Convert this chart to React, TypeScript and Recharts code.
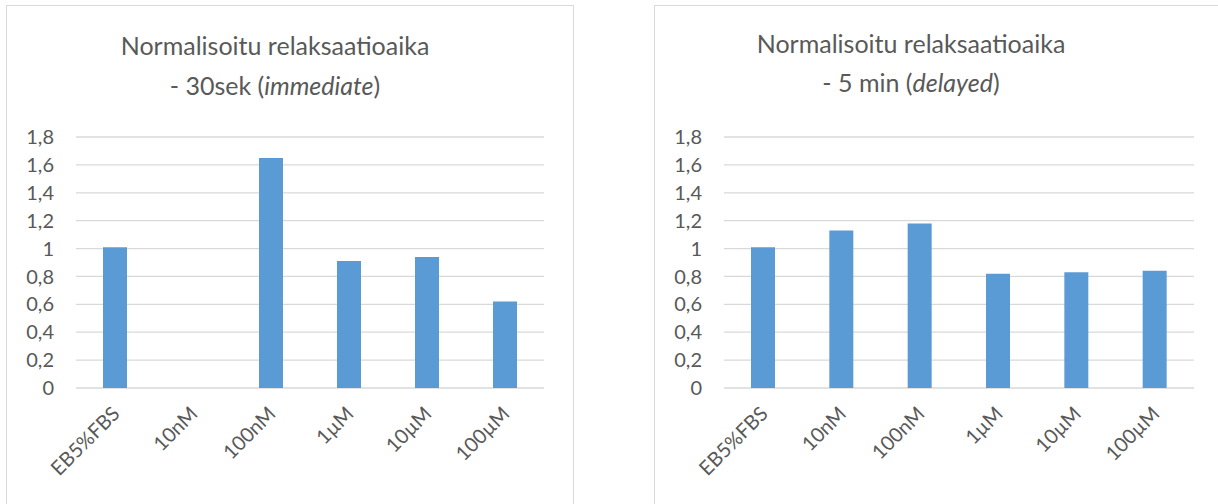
import { BarChart, Bar, XAxis, YAxis, CartesianGrid } from "recharts"

const categories = ["EB5%FBS", "10nM", "100nM", "1µM", "10µM", "100µM"]
const immediateValues = [1.01, null, 1.65, 0.91, 0.94, 0.62]
const delayedValues = [1.01, 1.13, 1.18, 0.82, 0.83, 0.84]
const yTicks = [0, 0.2, 0.4, 0.6, 0.8, 1, 1.2, 1.4, 1.6, 1.8]

const FONT = "Lato, 'Open Sans', sans-serif"
const TEXT = "#595959"
const GRID = "#d9d9d9"
const BAR = "#5b9bd5"

const fmt = (v: number) => String(v).replace(".", ",")

function AngledTick({ x, y, payload }: any) {
  return (
    <g transform={`translate(${x},${y})`}>
      <text
        x={6}
        y={19}
        textAnchor="end"
        transform="rotate(-45 6 19)"
        fill={TEXT}
        fontFamily={FONT}
        fontSize={20}
      >
        {payload.value}
      </text>
    </g>
  )
}

interface PanelProps {
  values: (number | null)[]
  left: number
  width: number
  yAxisWidth: number
  rightMargin: number
}

function Panel({ values, left, width, yAxisWidth, rightMargin }: PanelProps) {
  const data = categories.map((c, i) => ({ name: c, value: values[i] }))
  return (
    <div style={{ position: "absolute", left, top: 0 }}>
      <BarChart
        width={width}
        height={504}
        data={data}
        margin={{ top: 137, right: rightMargin, bottom: 16, left: 0 }}
        barSize={24}
      >
        <CartesianGrid vertical={false} stroke={GRID} strokeWidth={1.3} />
        <XAxis
          dataKey="name"
          axisLine={false}
          tickLine={false}
          height={100}
          interval={0}
          tick={<AngledTick />}
        />
        <YAxis
          domain={[0, 1.8]}
          ticks={yTicks}
          width={yAxisWidth}
          axisLine={false}
          tickLine={false}
          tickSize={0}
          tickMargin={22}
          tickFormatter={fmt}
          tick={{ fill: TEXT, fontFamily: FONT, fontSize: 20 }}
          interval={0}
        />
        <Bar dataKey="value" fill={BAR} isAnimationActive={false} />
      </BarChart>
    </div>
  )
}

function Title({ cx, y1, y2, line2, italic }: { cx: number; y1: number; y2: number; line2: string; italic: string }) {
  return (
    <svg width={1218} height={120} style={{ position: "absolute", left: 0, top: 0 }}>
      <text x={cx} y={y1} textAnchor="middle" fill={TEXT} fontFamily={FONT} fontSize={25}>
        Normalisoitu relaksaatioaika
      </text>
      <text x={cx} y={y2} textAnchor="middle" fill={TEXT} fontFamily={FONT} fontSize={25}>
        {line2}
        <tspan fontStyle="italic">{italic}</tspan>)
      </text>
    </svg>
  )
}

export default function App() {
  return (
    <div
      style={{
        position: "absolute",
        left: 0,
        top: 0,
        width: 1218,
        height: 504,
        overflow: "hidden",
        background: "#fff",
      }}
    >
      <div style={{ position: "absolute", left: 6, top: 5, width: 566, height: 520, border: `1px solid ${GRID}` }} />
      <div style={{ position: "absolute", left: 654, top: 5, width: 580, height: 520, border: `1px solid ${GRID}` }} />
      <Panel values={immediateValues} left={0} width={580} yAxisWidth={76} rightMargin={36} />
      <Panel values={delayedValues} left={640} width={578} yAxisWidth={84} rightMargin={24} />
      <Title cx={275} y1={55} y2={95} line2="- 30sek (" italic="immediate" />
      <Title cx={911} y1={53} y2={92} line2="- 5 min (" italic="delayed" />
    </div>
  )
}
